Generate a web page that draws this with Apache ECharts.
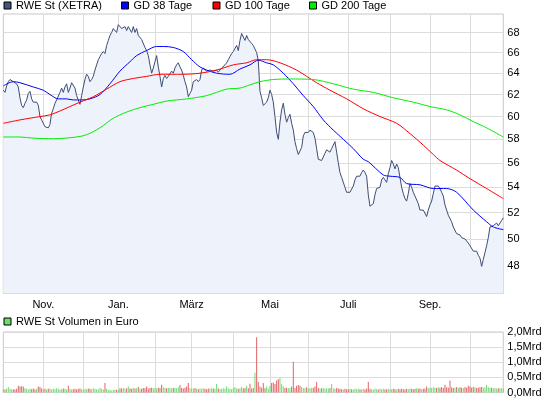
<!DOCTYPE html>
<html>
<head>
<meta charset="utf-8">
<script src="https://cdn.jsdelivr.net/npm/echarts@6/dist/echarts.min.js"></script>
<style>
html, body { margin: 0; padding: 0; background: #fff; }
#chart { width: 545px; height: 398px; }
</style>
</head>
<body>
<div id="chart"></div>
<script>
// Schlusskurse RWE St (XETRA), ein Wert pro Handelstag
var kurs = [
  62.4, 62.2, 62.8, 63.2, 63.4, 63.4, 63.2, 63.1, 63.0, 62.7, 61.7, 61.0, 60.8, 61.2, 61.5, 62.1, 62.3, 61.6, 61.3, 61.2,
  61.3, 61.0, 60.0, 59.7, 59.8, 59.1, 59.2, 59.0, 59.3, 60.3, 60.7, 61.2, 61.5, 61.6, 62.2, 62.6, 62.2, 62.7, 63.0, 62.2,
  62.6, 63.1, 63.0, 62.6, 61.9, 61.5, 61.1, 61.9, 62.7, 63.4, 63.9, 63.7, 63.2, 63.4, 63.7, 64.3, 64.8, 65.3, 65.6, 65.9,
  66.1, 65.9, 66.7, 67.2, 67.7, 68.0, 68.4, 68.6, 68.0, 68.8, 68.6, 68.4, 68.6,
  68.6, 68.2, 68.6, 68.4, 68.0, 68.6, 68.0, 68.4, 67.7, 67.8, 67.3, 67.2, 66.5, 66.2, 65.7, 64.8, 64.0, 64.5, 65.1, 65.7,
  64.6, 63.7, 62.7, 63.5, 63.8, 63.5, 63.7, 63.8, 64.2, 64.0, 64.5, 64.8, 65.0, 64.6, 64.3, 63.8, 63.2, 62.7, 61.8, 62.1,
  62.4, 63.2, 63.1, 63.4, 63.2, 63.4, 64.3, 64.5, 64.4, 64.2, 64.1, 64.3, 64.4, 64.2, 64.3, 64.3, 64.1, 64.3, 64.5, 64.6,
  64.8, 65.0, 65.3, 65.6, 65.9, 66.1, 66.4, 66.7, 66.2, 67.2, 67.9, 67.7, 67.2, 67.7, 67.3,
  67.2, 66.9, 66.7, 66.8, 66.0, 65.2, 62.3, 61.7, 61.0, 60.9, 61.3, 61.7, 62.4, 62.0, 61.3, 60.0, 58.6, 58.0, 59.5, 60.6,
  61.2, 60.2, 59.5, 59.9, 60.2, 59.4, 58.8, 57.8, 57.2, 56.7, 56.6, 57.3, 58.3, 58.6, 58.5, 58.6, 58.8, 58.9, 58.6, 58.1,
  57.2, 56.3, 56.4, 56.2, 56.3, 56.8, 57.1, 57.2, 56.9, 57.2, 57.5, 57.8, 56.9, 56.0, 55.2, 54.8, 54.8, 54.0, 53.6, 53.5,
  53.6, 53.5, 54.1, 54.6, 54.9, 55.0, 54.9, 55.2, 55.4, 55.2, 54.9, 53.4, 52.5, 52.5, 52.7,
  53.4, 53.9, 53.8, 54.0, 54.6, 54.8, 54.6, 54.4, 55.1, 55.6, 56.2, 55.9, 55.5, 55.9, 55.6, 54.8, 54.0, 53.5, 53.1, 52.9,
  53.5, 54.3, 54.0, 53.6, 53.3, 53.3, 52.7, 52.2, 52.3, 52.2, 52.1, 51.7, 52.2, 52.6, 52.9, 53.5, 54.1, 54.0, 54.1, 53.9,
  53.6, 53.3, 52.6, 52.5, 51.8, 51.7, 51.3, 50.9, 50.9, 50.4, 50.4, 50.3, 50.1, 50.1, 50.0, 49.9, 49.7, 49.5, 49.4, 49.1,
  49.2, 49.1, 48.8, 48.6, 48.0, 48.5, 49.0, 49.5, 50.1, 50.9, 50.8, 51.0, 51.0, 51.2, 51.0, 51.1, 51.4, 51.6
];

// gleitende Durchschnitte: [Tagesindex, Wert]
var gd38 = [
  [0, 62.8], [6, 63.2], [10, 63.1], [18, 62.7], [24, 62.4], [28, 62.0], [33, 61.6], [38, 61.6], [42, 61.5],
  [47, 61.5], [52, 61.6], [58, 62.0], [64, 63.0], [70, 64.2], [76, 65.1], [80, 65.7], [86, 66.2], [92, 66.6],
  [96, 66.6], [102, 66.5], [108, 66.1], [113, 65.3], [118, 64.6], [122, 64.3], [128, 64.0], [136, 63.9],
  [142, 64.4], [148, 64.8], [153, 65.25], [158, 65.0], [162, 64.8], [168, 64.0], [174, 63.0], [180, 61.9],
  [186, 60.9], [192, 59.7], [198, 58.8], [204, 58.0], [210, 57.2], [216, 56.3], [219, 56.1], [228, 55.0],
  [232, 54.9], [238, 54.8], [242, 54.3], [250, 54.2], [258, 53.9], [266, 53.9], [272, 53.6], [282, 52.2],
  [290, 51.3], [294, 50.9], [300, 50.7]
];
var gd100 = [
  [0, 59.4], [10, 59.7], [22, 60.0], [28, 60.15], [34, 60.5], [40, 60.9], [46, 61.3], [54, 61.8], [62, 62.5],
  [70, 63.2], [78, 63.5], [86, 63.7], [94, 63.9], [108, 63.9], [118, 64.0], [128, 64.3], [138, 64.8],
  [146, 65.0], [152, 65.3], [158, 65.3], [166, 65.0], [176, 64.3], [182, 63.7], [188, 63.1], [196, 62.4],
  [206, 61.6], [216, 60.7], [226, 60.0], [236, 59.4], [244, 58.5], [252, 57.5], [258, 56.7], [262, 56.2],
  [272, 55.4], [280, 54.7], [290, 53.9], [300, 53.1]
];
var gd200 = [
  [0, 58.2], [10, 58.2], [18, 58.1], [30, 58.05], [44, 58.2], [50, 58.4], [58, 59.0], [66, 59.85], [74, 60.4],
  [82, 60.8], [90, 61.1], [98, 61.4], [110, 61.6], [122, 61.9], [134, 62.5], [142, 62.6], [148, 62.9],
  [154, 63.2], [162, 63.4], [172, 63.45], [186, 63.4], [198, 63.0], [210, 62.5], [222, 62.2], [234, 61.7],
  [246, 61.3], [256, 60.9], [266, 60.6], [274, 60.15], [282, 59.55], [290, 59.0], [300, 58.2]
];

// Volumen in Mrd Euro
var volumen = [
  0.11, 0.1, 0.12, 0.18, 0.12, 0.1, 0.11, 0.1, 0.12, 0.22, 0.2, 0.21, 0.19, 0.14, 0.12, 0.1, 0.12, 0.11, 0.13, 0.1,
  0.12, 0.2, 0.18, 0.13, 0.11, 0.12, 0.1, 0.12, 0.13, 0.1, 0.12, 0.11, 0.14, 0.12, 0.1, 0.11, 0.13, 0.12, 0.1, 0.22,
  0.12, 0.1, 0.11, 0.12, 0.1, 0.12, 0.13, 0.11, 0.1, 0.12, 0.11, 0.13, 0.12, 0.1, 0.14, 0.12, 0.11, 0.1, 0.16, 0.12,
  0.1, 0.31, 0.12, 0.08, 0.09, 0.07, 0.08, 0.1, 0.09, 0.08, 0.14, 0.13, 0.15, 0.12, 0.14, 0.2, 0.13, 0.12, 0.15, 0.13,
  0.14, 0.18, 0.13, 0.12, 0.15, 0.14, 0.2, 0.13, 0.15, 0.16, 0.14, 0.15, 0.13, 0.16, 0.15, 0.26, 0.17, 0.15, 0.14, 0.16,
  0.15, 0.13, 0.16, 0.15, 0.14, 0.17, 0.25, 0.15, 0.13, 0.16, 0.2, 0.31, 0.14, 0.12, 0.13, 0.15, 0.12, 0.11, 0.13, 0.12,
  0.14, 0.12, 0.11, 0.13, 0.12, 0.14, 0.13, 0.12, 0.28, 0.13, 0.11, 0.12, 0.14, 0.12, 0.2, 0.13, 0.12, 0.11, 0.15, 0.18,
  0.13, 0.12, 0.14, 0.18, 0.13, 0.15, 0.22, 0.14, 0.29, 0.13, 0.15, 0.65, 1.83, 0.35, 0.2, 0.16, 0.31, 0.14, 0.2, 0.13,
  0.22, 0.31, 0.33, 0.28, 0.4, 0.44, 0.48, 0.27, 0.2, 0.15, 0.16, 0.14, 0.15, 0.2, 1.02, 0.15, 0.22, 0.25, 0.22, 0.18,
  0.15, 0.14, 0.17, 0.13, 0.15, 0.14, 0.16, 0.2, 0.35, 0.15, 0.13, 0.14, 0.16, 0.12, 0.14, 0.13, 0.15, 0.28, 0.14, 0.12,
  0.15, 0.13, 0.12, 0.11, 0.1, 0.12, 0.11, 0.1, 0.12, 0.11, 0.1, 0.12, 0.11, 0.12, 0.1, 0.11, 0.12, 0.1, 0.13, 0.35,
  0.12, 0.11, 0.1, 0.12, 0.11, 0.1, 0.12, 0.11, 0.12, 0.1, 0.11, 0.12, 0.1, 0.11, 0.12, 0.11, 0.1, 0.12, 0.11, 0.12,
  0.11, 0.1, 0.12, 0.11, 0.13, 0.12, 0.11, 0.12, 0.14, 0.12, 0.13, 0.11, 0.12, 0.13, 0.2, 0.14, 0.16, 0.15, 0.17, 0.16,
  0.15, 0.17, 0.16, 0.18, 0.15, 0.26, 0.17, 0.16, 0.4, 0.17, 0.15, 0.16, 0.18, 0.15, 0.17, 0.16, 0.15, 0.18, 0.16, 0.22,
  0.2, 0.16, 0.18, 0.17, 0.15, 0.16, 0.17, 0.18, 0.16, 0.17, 0.26, 0.18, 0.15, 0.16, 0.14, 0.15, 0.13, 0.14, 0.15, 0.14,
  0.13
];

// Monatsanfaenge (Index des Handelstags) und Beschriftungen
var monatsStart = [24, 48, 69, 91, 113, 138, 160, 183, 207, 232, 256, 280];
var monatsName  = ['Nov.', '', 'Jan.', '', 'März', '', 'Mai', '', 'Juli', '', 'Sep.', ''];
var kursTicks = [48, 50, 52, 54, 56, 58, 60, 62, 64, 66, 68];
var volTicks = [0, 0.5, 1.0, 1.5, 2.0];

var tage = kurs.map(function (v, i) {
  var k = monatsStart.indexOf(i);
  return k >= 0 ? monatsName[k] : '';
});

var rot = '#e06464', gruen = '#6cdc6c';
var volDaten = volumen.map(function (v, i) {
  var hoch = i === 0 || kurs[i] >= kurs[i - 1];
  return { value: v, itemStyle: { color: hoch ? gruen : rot } };
});

var schrift = 'Liberation Sans, Arial, sans-serif';
var gitter = { color: '#dcdcdc', width: 1 };
var isStart = function (i) { return monatsStart.indexOf(i) >= 0; };

function legende(name, x, y) {
  return {
    data: [name], left: x, top: y, padding: 0,
    icon: 'rect', itemWidth: 7, itemHeight: 7,
    itemStyle: { borderColor: '#000', borderWidth: 1 },
    textStyle: { fontFamily: schrift, fontSize: 11, color: '#000' },
    selectedMode: false
  };
}

var chart = echarts.init(document.getElementById('chart'));
chart.setOption({
  animation: false,
  textStyle: { fontFamily: schrift },
  legend: [
    legende('RWE St (XETRA)', 3.5, 0),
    legende('GD 38 Tage', 121, 0),
    legende('GD 100 Tage', 212.5, 0),
    legende('GD 200 Tage', 309, 0),
    legende('RWE St Volumen in Euro', 3.5, 316)
  ],
  grid: [
    { left: 3.3, right: 41.7, top: 14, height: 279.5, show: true, borderColor: '#c8c8c8', borderWidth: 1 },
    { left: 3.3, right: 41.7, top: 332, height: 61.4, show: true, borderColor: '#c8c8c8', borderWidth: 1 }
  ],
  xAxis: [
    {
      type: 'category', gridIndex: 0, data: tage, boundaryGap: false,
      axisLine: { show: false }, axisTick: { show: false },
      axisLabel: {
        interval: function (i, v) { return v !== ''; },
        margin: 6, fontSize: 11, color: '#000', fontFamily: schrift
      },
      splitLine: { show: true, interval: isStart, lineStyle: gitter }
    },
    {
      type: 'category', gridIndex: 1, data: tage, boundaryGap: false,
      axisLine: { show: false }, axisTick: { show: false }, axisLabel: { show: false },
      splitLine: { show: true, interval: isStart, lineStyle: gitter }
    }
  ],
  yAxis: [
    {
      type: 'log', logBase: 10, gridIndex: 0, position: 'right',
      min: 46.1, max: 69.9,
      axisLine: { show: false },
      axisTick: { show: false, customValues: kursTicks },
      axisLabel: { customValues: kursTicks, margin: 4, fontSize: 11, color: '#000', fontFamily: schrift },
      splitLine: { show: true, lineStyle: gitter }
    },
    {
      type: 'value', gridIndex: 1, position: 'right',
      min: 0, max: 2.0, interval: 0.5,
      axisLine: { show: false }, axisTick: { show: false },
      axisLabel: {
        margin: 4, fontSize: 11, color: '#000', fontFamily: schrift,
        formatter: function (v) { return v.toFixed(1).replace('.', ',') + 'Mrd'; }
      },
      splitLine: { show: true, lineStyle: gitter }
    }
  ],
  series: [
    {
      name: 'RWE St (XETRA)', type: 'line', data: kurs, symbol: 'none',
      itemStyle: { color: '#42557a' },
      lineStyle: { color: '#3d4d75', width: 1 },
      areaStyle: { color: '#eef2fa', origin: 'start', opacity: 1 },
      z: 2
    },
    {
      name: 'GD 38 Tage', type: 'line', data: gd38, symbol: 'none', smooth: 0.3,
      itemStyle: { color: '#0000ff' }, lineStyle: { color: '#0000ff', width: 1 }, z: 3
    },
    {
      name: 'GD 100 Tage', type: 'line', data: gd100, symbol: 'none', smooth: 0.3,
      itemStyle: { color: '#ff0000' }, lineStyle: { color: '#ff0000', width: 1 }, z: 3
    },
    {
      name: 'GD 200 Tage', type: 'line', data: gd200, symbol: 'none', smooth: 0.3,
      itemStyle: { color: '#00ee00' }, lineStyle: { color: '#00ee00', width: 1 }, z: 3
    },
    {
      name: 'RWE St Volumen in Euro', type: 'bar', xAxisIndex: 1, yAxisIndex: 1,
      data: volDaten, barWidth: 1, itemStyle: { color: gruen }
    }
  ]
});
</script>
</body>
</html>
